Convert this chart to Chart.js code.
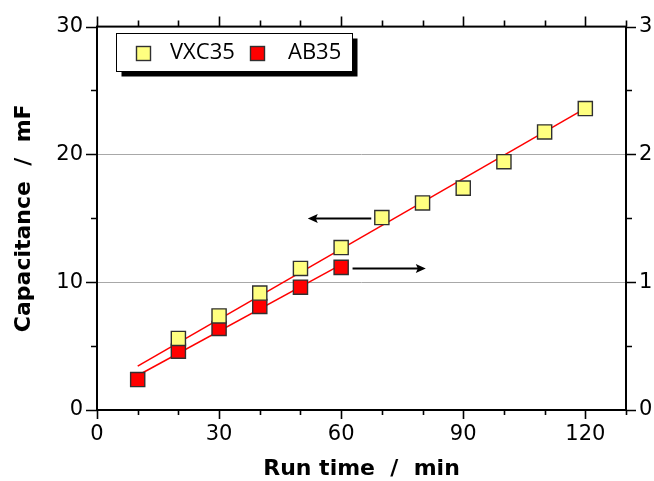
<!DOCTYPE html>
<html>
<head>
<meta charset="utf-8">
<title>Capacitance vs run time</title>
<script src="https://cdn.jsdelivr.net/npm/chart.js@4.4.1/dist/chart.umd.min.js"></script>
<style>
  html, body { margin: 0; padding: 0; background: #ffffff; }
  #wrap { width: 654px; height: 481px; position: relative; }
</style>
</head>
<body>
<div id="wrap"><canvas id="chart" width="654" height="481"></canvas></div>
<script>
// VXC35 capacitance (left axis, mF)
const vxcTime = [20, 30, 40, 50, 60, 70, 80, 90, 100, 110, 120];
const vxcCap  = [5.6, 7.36, 9.15, 11.08, 12.71, 15.06, 16.2, 17.36, 19.43, 21.76, 23.59];

// AB35 capacitance (right axis, mF)
const abTime = [10, 20, 30, 40, 50, 60];
const abCap  = [0.238, 0.46, 0.638, 0.81, 0.961, 1.116];

// Linear fits, given by their end points
const vxcFitTime = [10, 120];
const vxcFitCap  = [3.43, 23.6];
const abFitTime  = [10, 60];
const abFitCap   = [0.27, 1.137];

// Arrows telling which axis each series belongs to: [x tail, x head, y on left axis]
const arrowToLeft  = [67.4, 51.8, 15.04];
const arrowToRight = [62.8, 80.8, 11.12];

// Tick labels
const xTickValues  = [0, 30, 60, 90, 120];
const yTickValues  = [0, 10, 20, 30];
const y2TickValues = [0, 1, 2, 3];
const gridValues   = [10, 20];

const seriesNames = ['VXC35', 'AB35'];

const FONT = "'DejaVu Sans', sans-serif";
const LEGEND_FONT = "'Open Sans', 'Noto Sans', sans-serif";
const YELLOW = '#ffff80';
const RED = '#ff0000';

const pts = (xs, ys) => xs.map((x, i) => ({ x: x, y: ys[i] }));

// Frame, minor/major tick marks, arrows and the boxed legend
const decorations = {
  id: 'decorations',
  afterDraw(chart) {
    const { ctx, chartArea: a, scales } = chart;
    const sx = scales.x, sy = scales.y, sy2 = scales.y2;
    ctx.save();
    ctx.strokeStyle = '#000';
    ctx.lineWidth = 2;
    ctx.strokeRect(a.left, a.top, a.right - a.left, a.bottom - a.top);

    ctx.lineWidth = 1.6;
    ctx.beginPath();
    for (let v = 0; v <= 130; v += 10) {
      const px = Math.round(sx.getPixelForValue(v)) + 0.5;
      const major = v % 30 === 0;
      ctx.moveTo(px, a.bottom); ctx.lineTo(px, a.bottom + (major ? 9 : 5));
      ctx.moveTo(px, a.top); ctx.lineTo(px, a.top - (major ? 10 : 6));
    }
    for (let v = 0; v <= 30; v += 5) {
      const py = Math.round(sy.getPixelForValue(v)) + 0.5;
      ctx.moveTo(a.left, py); ctx.lineTo(a.left - (v % 10 === 0 ? 11 : 6), py);
    }
    for (let v = 0; v <= 3; v += 0.5) {
      const py = Math.round(sy2.getPixelForValue(v)) + 0.5;
      ctx.moveTo(a.right, py); ctx.lineTo(a.right + (v % 1 === 0 ? 10 : 6), py);
    }
    ctx.stroke();

    // arrows
    const arrow = (x0, x1, yv) => {
      const p0 = sx.getPixelForValue(x0), p1 = sx.getPixelForValue(x1);
      const py = Math.round(sy.getPixelForValue(yv)) + 0.5;
      const dir = Math.sign(p1 - p0);
      ctx.lineWidth = 2;
      ctx.beginPath();
      ctx.moveTo(p0, py); ctx.lineTo(p1 - dir * 6, py);
      ctx.stroke();
      ctx.beginPath();
      ctx.moveTo(p1, py);
      ctx.lineTo(p1 - dir * 10, py - 4.5);
      ctx.lineTo(p1 - dir * 8, py);
      ctx.lineTo(p1 - dir * 10, py + 4.5);
      ctx.closePath();
      ctx.fillStyle = '#000';
      ctx.fill();
    };
    arrow(arrowToLeft[0], arrowToLeft[1], arrowToLeft[2]);
    arrow(arrowToRight[0], arrowToRight[1], arrowToRight[2]);

    // legend box with drop shadow
    const lx = 116.5, ly = 33.5, lw = 236, lh = 38;
    ctx.fillStyle = '#000';
    ctx.fillRect(lx + 5, ly + 5, lw, lh);
    ctx.fillStyle = '#fff';
    ctx.fillRect(lx, ly, lw, lh);
    ctx.lineWidth = 1;
    ctx.strokeStyle = '#000';
    ctx.strokeRect(lx, ly, lw, lh);

    const items = [
      { name: seriesNames[0], color: YELLOW, box: 136.5, text: 170 },
      { name: seriesNames[1], color: RED, box: 250.5, text: 288 }
    ];
    ctx.font = '22px ' + LEGEND_FONT;
    ctx.textBaseline = 'middle';
    ctx.textAlign = 'left';
    items.forEach(it => {
      ctx.fillStyle = it.color;
      ctx.fillRect(it.box, 46.5, 14, 14);
      ctx.lineWidth = 1.4;
      ctx.strokeStyle = '#303030';
      ctx.strokeRect(it.box, 46.5, 14, 14);
      ctx.fillStyle = '#000';
      ctx.fillText(it.name, it.text, 53);
    });
    ctx.restore();
  }
};

const tickFont = { family: FONT, size: 21 };
const titleFont = { family: FONT, size: 22, weight: 'bold', lineHeight: 1.1 };

new Chart(document.getElementById('chart'), {
  type: 'scatter',
  data: {
    datasets: [
      {
        label: seriesNames[0],
        data: pts(vxcTime, vxcCap),
        yAxisID: 'y',
        pointStyle: 'rect',
        pointRadius: 10,
        backgroundColor: YELLOW,
        borderColor: '#303030',
        borderWidth: 1.4,
        order: 0
      },
      {
        label: seriesNames[1],
        data: pts(abTime, abCap),
        yAxisID: 'y2',
        pointStyle: 'rect',
        pointRadius: 10,
        backgroundColor: RED,
        borderColor: '#303030',
        borderWidth: 1.4,
        order: 0
      },
      {
        label: 'VXC35 fit',
        data: pts(vxcFitTime, vxcFitCap),
        yAxisID: 'y',
        showLine: true,
        pointRadius: 0,
        borderColor: RED,
        borderWidth: 1.5,
        order: 2
      },
      {
        label: 'AB35 fit',
        data: pts(abFitTime, abFitCap),
        yAxisID: 'y2',
        showLine: true,
        pointRadius: 0,
        borderColor: RED,
        borderWidth: 1.5,
        order: 2
      }
    ]
  },
  options: {
    responsive: false,
    animation: false,
    devicePixelRatio: 1,
    layout: { padding: { top: 23, left: 0, right: 0, bottom: 0 } },
    plugins: { legend: { display: false }, tooltip: { enabled: false } },
    scales: {
      x: {
        type: 'linear',
        position: 'bottom',
        min: 0,
        max: 130,
        afterBuildTicks: s => { s.ticks = xTickValues.map(v => ({ value: v })); },
        afterFit: s => { s.height = 71; },
        grid: { display: false, drawTicks: false },
        border: { display: false },
        ticks: { font: tickFont, color: '#000', padding: 12, maxRotation: 0 },
        title: { display: true, text: 'Run time  /  min', font: titleFont, color: '#000', padding: { top: 0, bottom: 0 } }
      },
      y: {
        type: 'linear',
        position: 'left',
        min: 0,
        max: 30,
        afterBuildTicks: s => { s.ticks = yTickValues.map(v => ({ value: v })); },
        afterFit: s => { s.width = 97; },
        grid: {
          drawTicks: false,
          lineWidth: 1,
          color: c => (c.tick && gridValues.includes(c.tick.value)) ? '#a8a8a8' : 'rgba(0,0,0,0)'
        },
        border: { display: false },
        ticks: { font: tickFont, color: '#000', padding: 14 },
        title: { display: true, text: 'Capacitance  /  mF', font: titleFont, color: '#000', padding: { top: 12, bottom: 0 } }
      },
      y2: {
        type: 'linear',
        position: 'right',
        min: 0,
        max: 3,
        afterBuildTicks: s => { s.ticks = y2TickValues.map(v => ({ value: v })); },
        afterFit: s => { s.width = 28; },
        grid: { display: false, drawTicks: false },
        border: { display: false },
        ticks: { font: tickFont, color: '#000', padding: 13 }
      }
    }
  },
  plugins: [decorations]
});
</script>
</body>
</html>
